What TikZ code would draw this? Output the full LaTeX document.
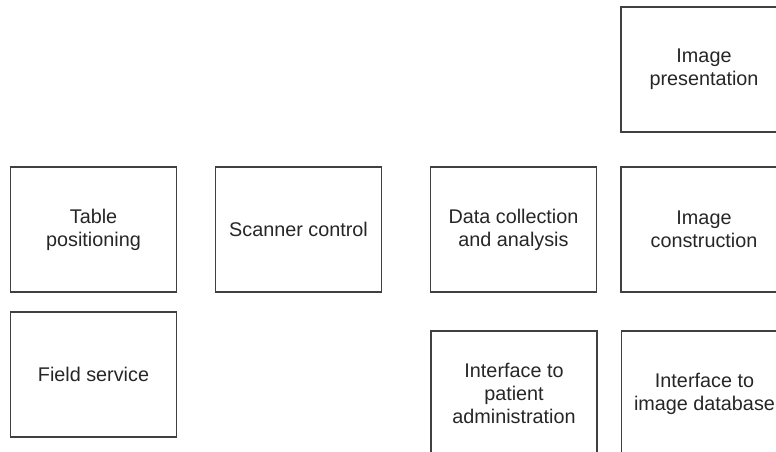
\documentclass[tikz,border=0pt]{standalone}
\usepackage{fontspec}
\setmainfont{Liberation Sans}
\begin{document}
\begin{tikzpicture}[x=1pt,y=-1pt,
  block/.style={draw=black!75, line width=1.1pt, rectangle,
    minimum width=166pt, minimum height=125pt, inner sep=0pt,
    align=center, text=black!85,
    font=\fontsize{19.8pt}{23pt}\selectfont}]
  \useasboundingbox (0,0) rectangle (776,451);
  \clip (0,0) rectangle (776,451);
  % top row (right column only)
  \node[block] (ip) at (704,69.5) {Image\\presentation};
  % middle row
  \node[block] (tp) at (93.5,229.5) {Table\\positioning};
  \node[block] (sc) at (298.5,229.5) {Scanner control};
  \node[block] (dc) at (513.5,229.5) {Data collection\\and analysis};
  \node[block] (ic) at (704,229.5) {Image\\construction};
  % bottom row
  \node[block] (fs) at (93.5,374.5) {Field service};
  \node[block] (ipa) at (514,393.5) {Interface to\\patient\\administration};
  \node[block] (iid) at (704.5,393.5) {Interface to\\image database};
\end{tikzpicture}
\end{document}
